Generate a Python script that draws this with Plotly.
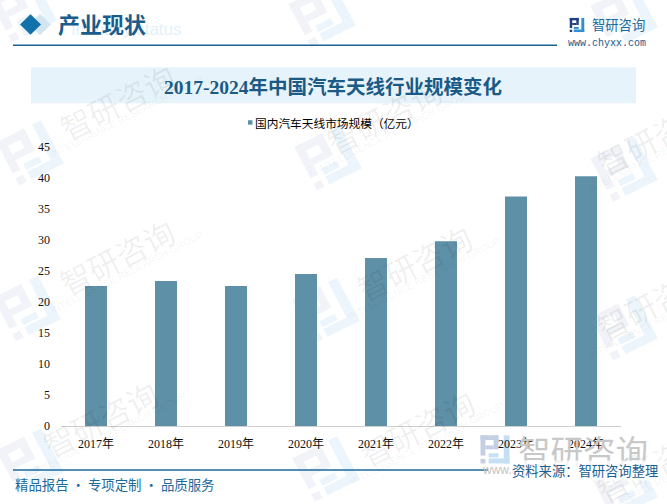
import math

import plotly.graph_objects as go

W = 667
H = 504

# chart data
years = ["2017年", "2018年", "2019年", "2020年", "2021年", "2022年", "2023年", "2024年"]
market_size = [22.6, 23.4, 22.6, 24.5, 27.1, 29.8, 37.0, 40.3]
y_ticks = [0, 5, 10, 15, 20, 25, 30, 35, 40, 45]
series_name = "国内汽车天线市场规模（亿元）"

BAR = "#5e90a8"
BLUE = "#1b6090"
SERIF = "Liberation Serif, Noto Sans CJK SC"
CJK = "Noto Sans CJK SC"

# watermark tile positions, in page pixels
wm_logos = [(23, 3), (322, 8), (624, 10), (30, 150), (328, 155), (624, 167),
            (27, 310), (326, 312), (624, 330), (30, 467), (326, 475), (624, 493)]
wm_texts = [(117, 97), (384, 112), (117, 257), (414, 263), (654, 133),
            (100, 423), (417, 433), (654, 303), (654, 470)]

LOGO_LEFT = [(0, 0, .62, .17), (0, 0, .17, .72), (.45, 0, .62, .5), (.17, .36, .45, .5), (0, .84, .17, 1)]
LOGO_RIGHT = [(.8, 0, 1, 1), (.28, .82, 1, 1), (.28, .64, .62, .78)]


def fx(px):
    return px / W


def fy(py):
    return 1 - py / H


def rect(x0, y0, x1, y1, color, width=0, line=None):
    return dict(type="rect", xref="paper", yref="paper", layer="below",
                x0=fx(x0), x1=fx(x1), y0=fy(y0), y1=fy(y1),
                fillcolor=color, line=dict(width=width, color=line or color))


def logo(cx, cy, size, left, right, angle=0):
    # logo blocks are drawn as rotated quads in page pixels
    out = []
    t = math.radians(angle)
    for blocks, color in ((left, left_c(left, right, left)), (right, None)):
        pass
    for blocks, color in ((LOGO_LEFT, left), (LOGO_RIGHT, right)):
        for x0, y0, x1, y1 in blocks:
            pts = []
            for ux, uy in ((x0, y0), (x1, y0), (x1, y1), (x0, y1)):
                dx = (ux - .5) * size
                dy = (uy - .5) * size
                px = cx + dx * math.cos(t) + dy * math.sin(t)
                py = cy - dx * math.sin(t) + dy * math.cos(t)
                pts.append(f"{fx(px):.5f} {fy(py):.5f}")
            path = "M " + " L ".join(pts) + " Z"
            out.append(dict(type="path", path=path, xref="paper", yref="paper", layer="below",
                            fillcolor=color, line=dict(width=0)))
    return out


def left_c(*_):
    return None


def label(px, py, text, size, color, family=CJK, anchor="center", angle=0, bg=None):
    return dict(x=fx(px), y=fy(py), xref="paper", yref="paper", text=text, showarrow=False,
                xanchor=anchor, yanchor="middle", textangle=angle, bgcolor=bg,
                borderpad=0, font=dict(size=size, color=color, family=family))


shapes = []
annotations = []

for cx, cy in wm_logos:
    shapes += logo(cx, cy, 50, "#f1f3f8", "#ebf5fb", angle=27)

for cx, cy in wm_texts:
    annotations.append(label(cx, cy, "智研咨询", 31, "rgba(0,0,0,0.065)", angle=-27))
    annotations.append(label(cx + 10, cy + 16, "INTELLIGENCE RESEARCH GROUP", 10,
                             "rgba(0,0,0,0.06)", family="Liberation Sans", angle=-27))

# header
shapes.append(dict(type="path", xref="paper", yref="paper", layer="below", fillcolor="#d3e5f0", line=dict(width=0),
                   path=f"M {fx(29)} {fy(18)} L {fx(40)} {fy(7)} L {fx(51)} {fy(18)} L {fx(40)} {fy(29)} Z"))
shapes.append(dict(type="path", xref="paper", yref="paper", layer="below", fillcolor="#1270ab", line=dict(width=0),
                   path=f"M {fx(20)} {fy(18)} L {fx(30.5)} {fy(7.5)} L {fx(41)} {fy(18)} L {fx(30.5)} {fy(28.5)} Z"))
shapes.append(rect(13, 38.5, 557, 40, "#1b6390"))
shapes.append(rect(31, 62, 636, 99, "#e6f3fb"))
shapes.append(rect(248, 116.5, 252.5, 121, BAR))

# footer
shapes.append(rect(13, 475.5, 488, 477, "#1b6a9c"))
shapes += logo(577, 18.5, 14.5, "#1f3f86", "#2f8fd0")
shapes += logo(495, 455, 29, "#c5cfe3", "#c5e0f2")

annotations += [
    label(70, 23, "Industry status", 17, "#e3f1fa", family="Liberation Sans", anchor="left"),
    label(57, 19, "<b>产业现状</b>", 22, "#1a5c8c", family=SERIF, anchor="left"),
    label(333, 82, "<b>2017-2024年中国汽车天线行业规模变化</b>", 19.5, "#1a5a85", family=SERIF),
    label(254, 119, series_name, 11.7, "#000000", anchor="left"),
    label(591, 18, "智研咨询", 13.3, "#1b6a9c", anchor="left"),
    label(567, 38, "www.chyxx.com", 10, "#1b5c8c", family="Liberation Mono", anchor="left"),
    label(583, 455, "智研咨询", 32.5, "#c8c8c8"),
    label(481, 476, "www.chyxx.com", 12, "#c4c4c4", family="Liberation Sans", anchor="left"),
    label(14, 491, "精品报告 · 专项定制 · 品质服务", 13.4, "#1b6a9c", anchor="left"),
    label(511, 477, "资料来源：智研咨询整理", 13.3, BLUE, anchor="left", bg="rgba(255,255,255,0.8)"),
]

fig = go.Figure(
    go.Bar(x=years, y=market_size, name=series_name, marker=dict(color=BAR, line=dict(width=0)), showlegend=False)
)

fig.update_layout(
    width=W,
    height=H,
    margin=dict(l=0, r=0, t=0, b=0),
    paper_bgcolor="#ffffff",
    plot_bgcolor="rgba(0,0,0,0)",
    bargap=0.686,
    shapes=shapes,
    annotations=annotations,
    font=dict(family=SERIF, size=12, color="#000000"),
)
fig.update_xaxes(
    domain=[fx(61), fx(621)],
    showline=True,
    linecolor="#d0d0d0",
    linewidth=1,
    showgrid=False,
    ticks="",
    ticklabelstandoff=7,
    tickfont=dict(size=12, color="#111111"),
)
fig.update_yaxes(
    domain=[fy(431), fy(144)],
    range=[0, 45],
    tickvals=y_ticks,
    showgrid=False,
    zeroline=False,
    showline=False,
    ticks="",
    ticklabelstandoff=10,
    tickfont=dict(size=12, color="#111111"),
)

fig.write_html("out.html", post_script="document.body.style.margin='0';", config={"displayModeBar": False})
